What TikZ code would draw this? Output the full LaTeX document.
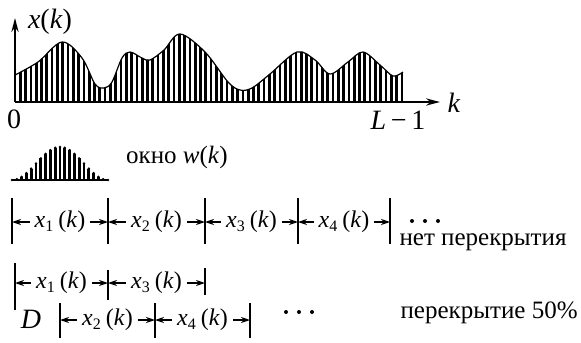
\documentclass[tikz,border=0pt]{standalone}
\usepackage{fontspec}
\setmainfont{Liberation Serif}
\usetikzlibrary{arrows.meta}

\newcommand{\xsub}[1]{\textit{x}\textsubscript{#1}\,(\textit{k})}

\begin{document}
\begin{tikzpicture}[
  x=0.5pt, y=-0.5pt,
  bar/.style   ={line width=1.35pt},
  axis/.style  ={-{Stealth[length=7pt,width=3.6pt]}, line width=1pt},
  tick/.style  ={line width=0.8pt},
  seg/.style   ={{Stealth[length=4.5pt,width=3pt]}-{Stealth[length=4.5pt,width=3pt]}, line width=0.6pt},
  lbl/.style   ={fill=white, inner sep=2.5pt, font=\fontsize{12}{14}\selectfont},
  txt/.style   ={inner sep=0pt, font=\fontsize{14}{16}\selectfont},
  note/.style  ={inner sep=0pt, font=\fontsize{12.5}{15}\selectfont},
]
\useasboundingbox (0,0) rectangle (581,342);

%% ---- signal x(k) ----
\coordinate (o)    at (15,102);
\coordinate (kend) at (440,102);
\coordinate (ytop) at (15,18);
\begin{scope}
  \clip plot[smooth, tension=0.55] coordinates {(15,75) (38,62) (62,42) (82,58) (95,84)
    (104,88) (112,82) (122,58) (130,52) (142,58) (150,60) (164,50) (180,34) (205,52)
    (228,82) (240,90) (252,88) (270,74) (297,52) (315,60) (330,74) (348,62) (363,52)
    (380,65) (393,76) (403,72)}
    -- (403,102) -- (15,102) -- cycle;
  \foreach \i in {0,...,73}
    \draw[bar] ({15+5.3*\i},102) -- ++(0,-100);
\end{scope}
\draw[line width=0.6pt] plot[smooth, tension=0.55] coordinates {(15,75) (38,62) (62,42)
  (82,58) (95,84) (104,88) (112,82) (122,58) (130,52) (142,58) (150,60) (164,50) (180,34)
  (205,52) (228,82) (240,90) (252,88) (270,74) (297,52) (315,60) (330,74) (348,62)
  (363,52) (380,65) (393,76) (403,72)};
\draw[axis] (o) -- (kend);
\draw[axis] (o) -- (ytop);

\node[txt] (xk)   at (50,22)  {\textit{x}(\textit{k})};
\node[txt] (zero) at (14,119) {0};
\node[txt] (lm1)  at (398,120) {\textit{L}\,−\,1};
\node[txt] (k)    at (454,103) {\textit{k}};

%% ---- window w(k) ----
\coordinate (w0) at (12,180);
\coordinate (w1) at (108,180);
\draw[line width=0.6pt] (w0) -- (w1);
\foreach \i in {0,...,20} {
  \pgfmathsetmacro{\hh}{33*sin(180*\i/20)^2}
  \draw[bar] ({12+4.8*\i},180) -- ++(0,-\hh);
  \fill ({12+4.8*\i},{180-\hh}) circle (1.4);
}
\node[note] (okno) at (177,157) {окно \textit{w}(\textit{k})};

%% ---- row 1: no overlap ----
\foreach \n/\x in {a0/12, a1/108, a2/205, a3/298, a4/390} {
  \coordinate (\n) at (\x,222);
  \draw[tick] (\x,198) -- (\x,244);
}
\draw[seg] (a0) -- node[lbl]{\xsub{1}} (a1);
\draw[seg] (a1) -- node[lbl]{\xsub{2}} (a2);
\draw[seg] (a2) -- node[lbl]{\xsub{3}} (a3);
\draw[seg] (a3) -- node[lbl]{\xsub{4}} (a4);
\foreach \x in {412,425,438}
  \fill (\x,221) circle (2);
\node[note] (nooverlap) at (483,242) {нет перекрытия};

%% ---- row 2: 50% overlap ----
\foreach \n/\x/\ya/\yb in {b0/15/263/310, b1/108/270/300, b2/205/268/295} {
  \coordinate (\n) at (\x,283);
  \draw[tick] (\x,\ya) -- (\x,\yb);
}
\foreach \n/\x in {c0/60, c1/155, c2/250} {
  \coordinate (\n) at (\x,320);
  \draw[tick] (\x,303) -- (\x,338);
}
\draw[seg] (b0) -- node[lbl]{\xsub{1}} (b1);
\draw[seg] (b1) -- node[lbl]{\xsub{3}} (b2);
\draw[seg] (c0) -- node[lbl]{\xsub{2}} (c1);
\draw[seg] (c1) -- node[lbl]{\xsub{4}} (c2);
\node[txt] (D) at (31,319) {\textit{D}};
\foreach \x in {286,299,312}
  \fill (\x,312) circle (2);
\node[note, anchor=east] (overlap) at (578,313) {перекрытие 50\%};

\end{tikzpicture}
\end{document}
